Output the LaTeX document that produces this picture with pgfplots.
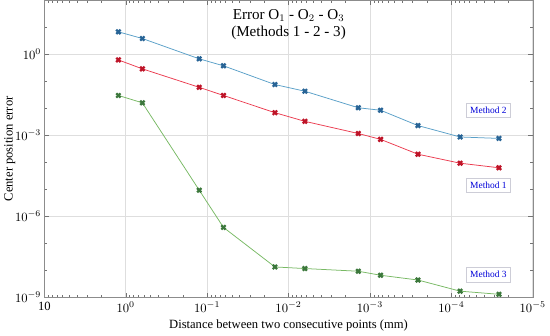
\documentclass[border=0pt]{standalone}
\usepackage{fontspec}
\setmainfont{Liberation Serif}
\usepackage{pgfplots}
\pgfplotsset{compat=1.18}
\definecolor{bline}{RGB}{90,160,200}
\definecolor{bmark}{RGB}{40,100,150}
\definecolor{rline}{RGB}{235,60,80}
\definecolor{rmark}{RGB}{190,20,40}
\definecolor{gline}{RGB}{120,185,100}
\definecolor{gmark}{RGB}{60,120,60}
\definecolor{boxc}{RGB}{205,205,215}
\begin{document}
\begin{tikzpicture}
\begin{axis}[
  scale only axis, width=388pt, height=236pt,
  xmode=log, ymode=log, x dir=reverse,
  xmin=1e-5, xmax=10, ymin=1e-9, ymax=100,
  xtick={1e-5,1e-4,1e-3,1e-2,1e-1,1,10},
  xticklabels={$10^{-5}$,$10^{-4}$,$10^{-3}$,$10^{-2}$,$10^{-1}$,$10^{0}$,10},
  ytick={1e-9,1e-6,1e-3,1},
  yticklabels={$10^{-9}$,$10^{-6}$,$10^{-3}$,$10^{0}$},
  minor ytick={1e-8,1e-7,1e-5,1e-4,1e-2,1e-1,10},
  minor xtick={},
  grid=major,
  major grid style={color=black!13, line width=0.5pt},
  axis line style={color=black!45},
  tick style={color=black!55},
  tick align=inside,
  major tick length=3.5pt, minor tick length=2pt,
  xlabel={Distance between two consecutive points (mm)},
  ylabel={Center position error},
  xlabel style={yshift=1pt},
  ylabel style={yshift=-7pt},
  yticklabel style={xshift=1pt},
  tick label style={font=\normalsize},
  label style={font=\normalsize},
  clip=false,
]
\addplot[color=bline, line width=0.6pt, mark=x, mark size=2.4pt, mark options={color=bmark, line width=1.8pt}] coordinates {
(1.23,6.8) (0.625,3.85) (0.125,0.68) (0.063,0.376) (0.0147,0.076) (0.0063,0.043)
(0.00139,0.0105) (0.00074,0.0085) (0.000257,0.0023) (7.8e-5,8.7e-4) (2.6e-5,7.7e-4)};
\addplot[color=rline, line width=0.6pt, mark=x, mark size=2.4pt, mark options={color=rmark, line width=1.8pt}] coordinates {
(1.23,0.62) (0.625,0.29) (0.125,0.06) (0.063,0.030) (0.0147,0.0069) (0.0063,0.0033)
(0.00139,0.00117) (0.00074,7.1e-4) (0.000257,2.0e-4) (7.8e-5,9.3e-5) (2.6e-5,6.3e-5)};
\addplot[color=gline, line width=0.6pt, mark=x, mark size=2.4pt, mark options={color=gmark, line width=1.8pt}] coordinates {
(1.23,0.030) (0.625,0.016) (0.125,9.3e-6) (0.063,3.9e-7) (0.0147,1.34e-8) (0.0063,1.17e-8)
(0.00139,9.3e-9) (0.00074,6.6e-9) (0.000257,4.4e-9) (7.8e-5,1.7e-9) (2.6e-5,1.3e-9)};
\node[draw=boxc, fill=white, text=blue!85!black, font=\fontsize{7.5}{9}\selectfont, inner sep=3pt] at (axis cs:3.5e-5,8.7e-3) {Method 2};
\node[draw=boxc, fill=white, text=blue!85!black, font=\fontsize{7.5}{9}\selectfont, inner sep=3pt] at (axis cs:3.5e-5,1.4e-5) {Method 1};
\node[draw=boxc, fill=white, text=blue!85!black, font=\fontsize{7.5}{9}\selectfont, inner sep=3pt] at (axis cs:3.5e-5,6.9e-9) {Method 3};
\node[anchor=north, align=center, font=\large, inner sep=1pt] at (rel axis cs:0.5,0.975) {Error O$_1$ - O$_2$ - O$_3$\\(Methods 1 - 2 - 3)};
\end{axis}
\end{tikzpicture}
\end{document}
